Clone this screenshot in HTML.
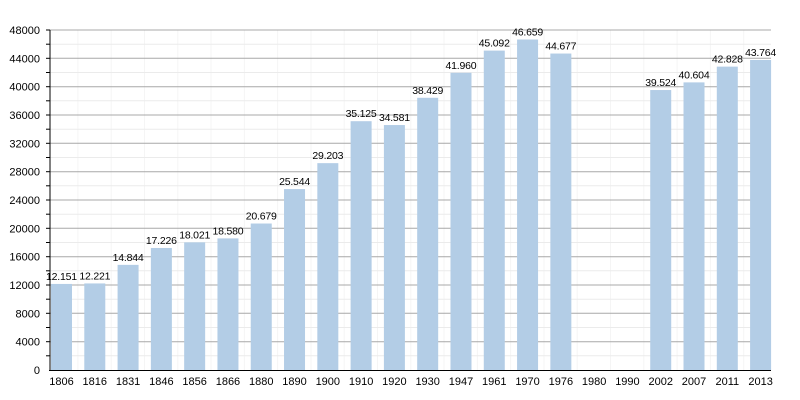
<!DOCTYPE html><html><head><style>body{margin:0;background:#fff}svg{display:block}text{font-family:"Liberation Sans",sans-serif;font-size:11px;fill:#000}text.v{font-size:10.5px;letter-spacing:-0.2px}</style></head><body>
<svg id="c" width="800" height="400" xmlns="http://www.w3.org/2000/svg"></svg>
<script>
var s=document.getElementById('c'),h='';
var Y=function(v){return 370-v*340/48000};
for(var i=1;i<22;i++){var x=51+i*33.29-6.4;h+='<line x1="'+x+'" x2="'+x+'" y1="30" y2="370" stroke="#f5f5f5"/>';}
for(var v=2000;v<=48000;v+=2000){var y=Y(v).toFixed(1);
 h+='<line x1="50" x2="771" y1="'+y+'" y2="'+y+'" stroke="'+(v%4000?'#ebebeb':'#a8a8a8')+'" stroke-width="1"/>';
 h+='<line x1="46" x2="50" y1="'+y+'" y2="'+y+'" stroke="#000"/>';
 if(v%4000==0)h+='<text x="40" y="'+(+y+4)+'" text-anchor="end">'+v+'</text>';}
h+='<text x="40" y="374" text-anchor="end">0</text>';
var d=[[1806,12151],[1816,12221],[1831,14844],[1846,17226],[1856,18021],[1866,18580],[1880,20679],[1890,25544],[1900,29203],[1910,35125],[1920,34581],[1930,38429],[1947,41960],[1961,45092],[1970,46659],[1976,44677],[1980,0],[1990,0],[2002,39524],[2007,40604],[2011,42828],[2013,43764]];
for(var i=0;i<d.length;i++){var x=51+i*33.29,cx=x+10.5;
 if(d[i][1]){var y=Y(d[i][1]);h+='<rect x="'+x+'" y="'+y+'" width="21" height="'+(370-y)+'" fill="#b3cde6"/>';
 h+='<text class="v" x="'+cx+'" y="'+(y-4)+'" text-anchor="middle">'+String(d[i][1]).replace(/(\d+)(\d{3})$/,'$1.$2')+'</text>';}
 h+='<text x="'+cx+'" y="385" text-anchor="middle">'+d[i][0]+'</text>';}
h+='<line x1="50" x2="50" y1="30" y2="371" stroke="#000"/><line x1="49" x2="771" y1="370.5" y2="370.5" stroke="#000"/>';
s.innerHTML=h;
</script></body></html>
